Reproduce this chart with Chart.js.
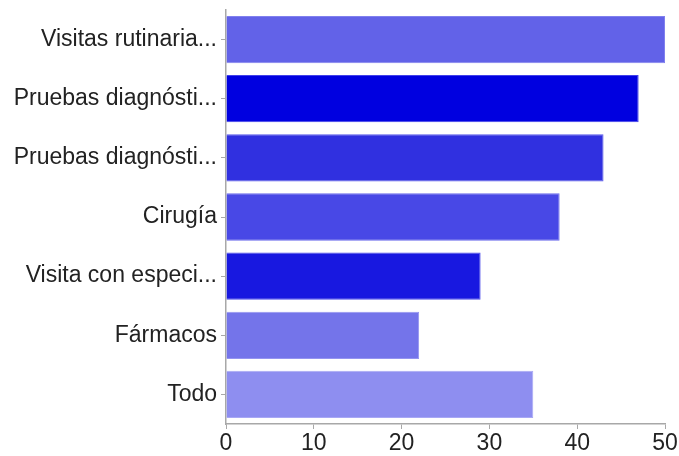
<!DOCTYPE html>
<html>
<head>
<meta charset="utf-8">
<script src="https://cdn.jsdelivr.net/npm/chart.js@4/dist/chart.umd.min.js"></script>
<style>
  html, body { margin: 0; padding: 0; background: #fff; }
  #wrap { width: 679px; height: 456px; position: relative; }
</style>
</head>
<body>
<div id="wrap"><canvas id="c"></canvas></div>
<script>
// Categories as shown on the axis (already shortened)
const categories = [
  'Visitas rutinaria...',
  'Pruebas diagnósti...',
  'Pruebas diagnósti...',
  'Cirugía',
  'Visita con especi...',
  'Fármacos',
  'Todo'
];
// Responses per category
const responses = [50, 47, 43, 38, 29, 22, 35];
// One fill per bar
const barColors = ['#6262E8', '#0000E0', '#3030E0', '#4848E6', '#1818E0', '#7474EA', '#8E8EF0'];
const barEdges  = ['#8080EE', '#4040EA', '#5858EA', '#6A6AEC', '#4C4CEA', '#9494F0', '#A8A8F4'];
// Value axis ticks
const xTicks = [0, 10, 20, 30, 40, 50];

const axisGrey = '#A8A8A8';
const labelFont = { family: '"Liberation Sans", Arial, sans-serif', size: 23 };

new Chart(document.getElementById('c'), {
  type: 'bar',
  data: {
    labels: categories,
    datasets: [{
      data: responses,
      backgroundColor: barColors,
      borderColor: barEdges,
      borderWidth: 1,
      borderSkipped: 'start',
      categoryPercentage: 0.8,
      barPercentage: 1.0
    }]
  },
  options: {
    indexAxis: 'y',
    responsive: true,
    maintainAspectRatio: false,
    animation: false,
    layout: { padding: { top: 10, right: 14, bottom: 0, left: 0 } },
    plugins: { legend: { display: false }, tooltip: { enabled: false } },
    scales: {
      x: {
        min: 0,
        max: 50,
        afterBuildTicks: (axis) => { axis.ticks = xTicks.map(v => ({ value: v })); },
        afterFit: (axis) => { axis.height = 32; },
        grid: { drawOnChartArea: false, color: axisGrey, tickLength: 5, lineWidth: 1 },
        border: { color: axisGrey, width: 1.5 },
        ticks: { color: '#222', font: labelFont, padding: 1, maxRotation: 0 }
      },
      y: {
        afterFit: (axis) => {
          axis.width = 226;
          axis.paddingTop = 0;
          axis.paddingBottom = 0;
        },
        grid: { drawOnChartArea: false, offset: false, color: axisGrey, tickLength: 5, lineWidth: 1 },
        border: { color: axisGrey, width: 1.5 },
        ticks: { color: '#222', font: labelFont, padding: 4, autoSkip: false }
      }
    }
  }
});
</script>
</body>
</html>
